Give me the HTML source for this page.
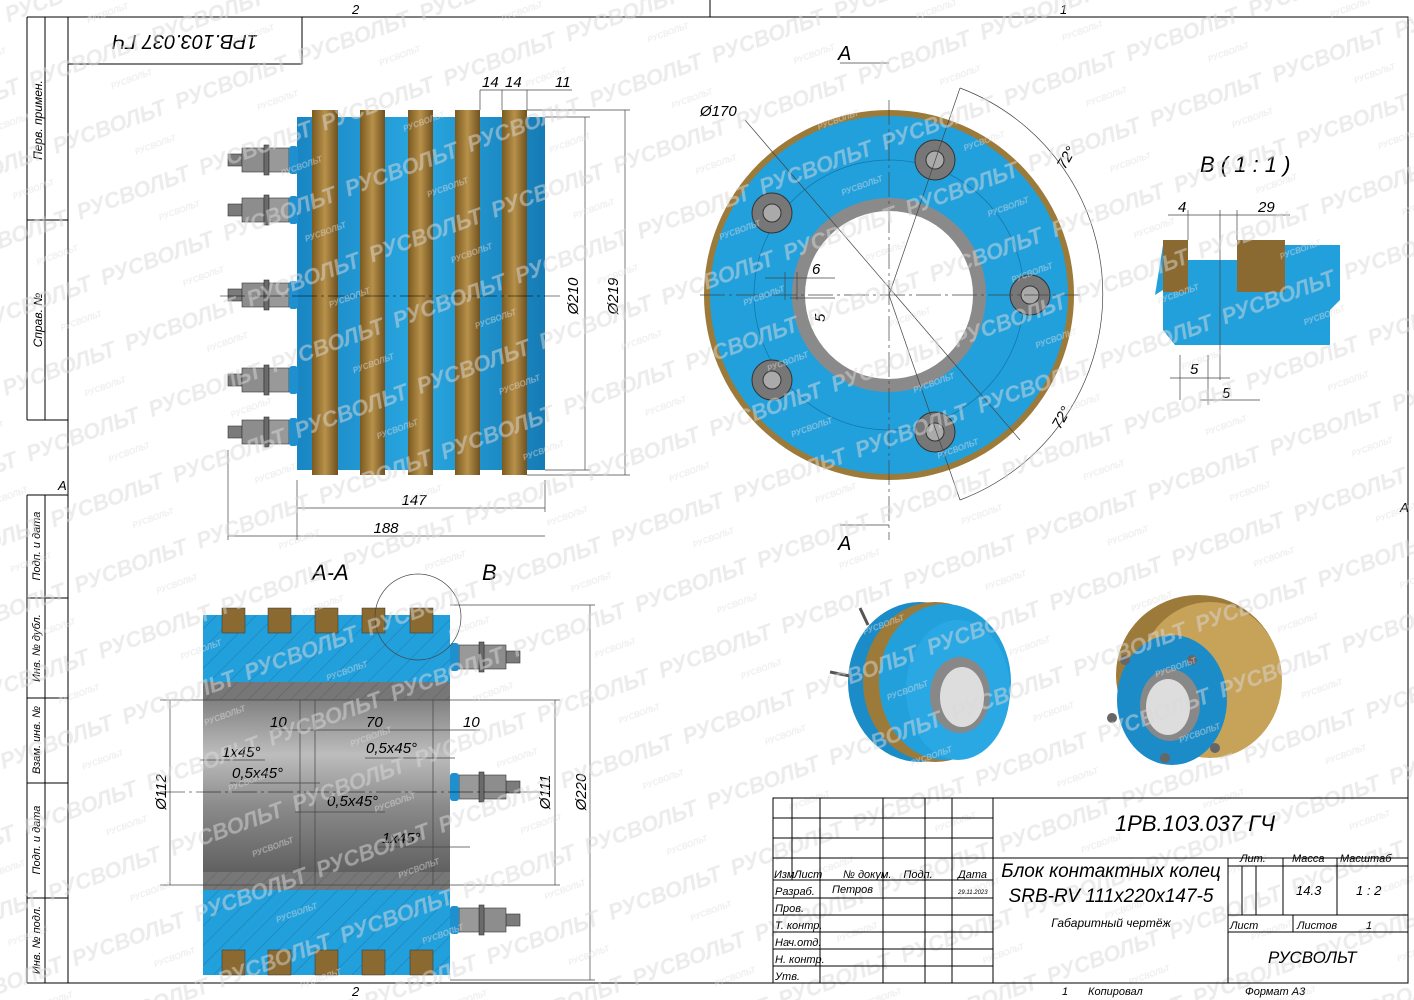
<!DOCTYPE html>
<html><head><meta charset="utf-8"><style>
html,body{margin:0;padding:0;background:#fff}
svg{display:block}
text{font-family:"Liberation Sans","Noto Sans CJK SC",sans-serif;font-style:italic}
.wm{fill:#d9d9d9;font-weight:bold;font-style:italic;font-size:22px}
.wms{fill:#dedede;font-weight:bold;font-size:8px}
.l{stroke:#000;stroke-width:1;fill:none}
.t{stroke:#444;stroke-width:0.7;fill:none}
.dim{font-size:15px;fill:#000}
</style></head><body>
<svg width="1414" height="1000" viewBox="0 0 1414 1000" xmlns="http://www.w3.org/2000/svg">
<defs>
<pattern id="wmp" width="130" height="70" patternUnits="userSpaceOnUse" patternTransform="rotate(-20)">
<text x="0" y="24" class="wm">РУСВОЛЬТ</text>
<text x="75" y="52" class="wms">РУСВОЛЬТ</text>
</pattern>
<pattern id="hat" width="14" height="14" patternUnits="userSpaceOnUse" patternTransform="rotate(45)">
<line x1="0" y1="0" x2="0" y2="14" stroke="#1a6fa0" stroke-width="0.8"/>
</pattern>
<pattern id="hatg" width="10" height="10" patternUnits="userSpaceOnUse" patternTransform="rotate(45)">
<line x1="0" y1="0" x2="0" y2="10" stroke="#555" stroke-width="0.7"/>
</pattern>
<linearGradient id="gold" x1="0" x2="1"><stop offset="0" stop-color="#7a5a20"/><stop offset="0.5" stop-color="#b8914a"/><stop offset="1" stop-color="#6e5120"/></linearGradient>
<linearGradient id="blue" x1="0" x2="1"><stop offset="0" stop-color="#1a86c4"/><stop offset="0.5" stop-color="#29a7e0"/><stop offset="1" stop-color="#167bb5"/></linearGradient>
<linearGradient id="grey" x1="0" y1="0" x2="0" y2="1"><stop offset="0" stop-color="#6d6d6d"/><stop offset="0.35" stop-color="#bdbdbd"/><stop offset="0.6" stop-color="#8a8a8a"/><stop offset="1" stop-color="#555"/></linearGradient>
<g id="bolt">
<rect x="0" y="-6" width="14" height="12" fill="#7b7b7b" stroke="#333" stroke-width="0.6"/>
<rect x="14" y="-12" width="22" height="24" fill="#8d8d8d" stroke="#333" stroke-width="0.6"/>
<rect x="36" y="-15" width="5" height="30" fill="#6a6a6a" stroke="#333" stroke-width="0.6"/>
<rect x="41" y="-12" width="20" height="24" fill="#999" stroke="#333" stroke-width="0.6"/>
<rect x="61" y="-14" width="9" height="28" rx="3" fill="#1e90d0"/>
</g>
</defs>
<rect width="1414" height="1000" fill="#fff"/>

<!-- frame -->
<rect x="68" y="17" width="1340" height="966" class="l"/>
<rect x="68" y="17" width="234" height="47" class="l"/>
<text x="185" y="49" font-size="20" text-anchor="middle" transform="rotate(180 185 42)">1РВ.103.037 ГЧ</text>
<line x1="27" y1="17" x2="68" y2="17" class="l"/>
<line x1="27" y1="17" x2="27" y2="420" class="l"/>
<line x1="45" y1="17" x2="45" y2="420" class="l"/>
<line x1="27" y1="220" x2="68" y2="220" class="l"/>
<line x1="27" y1="420" x2="68" y2="420" class="l"/>
<text x="42" y="120" font-size="12" transform="rotate(-90 42 120)" text-anchor="middle">Перв. примен.</text>
<text x="42" y="320" font-size="12" transform="rotate(-90 42 320)" text-anchor="middle">Справ. №</text>
<line x1="27" y1="495" x2="27" y2="983" class="l"/>
<line x1="45" y1="495" x2="45" y2="983" class="l"/>
<g class="l"><line x1="27" y1="495" x2="68" y2="495"/><line x1="27" y1="598" x2="68" y2="598"/><line x1="27" y1="698" x2="68" y2="698"/><line x1="27" y1="783" x2="68" y2="783"/><line x1="27" y1="898" x2="68" y2="898"/><line x1="27" y1="983" x2="68" y2="983"/></g>
<text x="40" y="546" font-size="11" transform="rotate(-90 40 546)" text-anchor="middle">Подп. и дата</text>
<text x="40" y="648" font-size="11" transform="rotate(-90 40 648)" text-anchor="middle">Инв. № дубл.</text>
<text x="40" y="740" font-size="11" transform="rotate(-90 40 740)" text-anchor="middle">Взам. инв. №</text>
<text x="40" y="840" font-size="11" transform="rotate(-90 40 840)" text-anchor="middle">Подп. и дата</text>
<text x="40" y="940" font-size="11" transform="rotate(-90 40 940)" text-anchor="middle">Инв. № подл.</text>
<text x="58" y="490" font-size="13">A</text>
<text x="1400" y="512" font-size="13">A</text>
<text x="352" y="14" font-size="13">2</text><text x="1060" y="14" font-size="13">1</text>
<text x="352" y="996" font-size="13">2</text>
<line x1="710" y1="0" x2="710" y2="17" class="l"/>

<!-- front view -->
<g>
<rect x="297" y="117" width="248" height="353" fill="url(#blue)"/>
<rect x="312" y="110" width="26" height="365" fill="url(#gold)"/>
<rect x="360" y="110" width="25" height="365" fill="url(#gold)"/>
<rect x="408" y="110" width="25" height="365" fill="url(#gold)"/>
<rect x="455" y="110" width="25" height="365" fill="url(#gold)"/>
<rect x="502" y="110" width="25" height="365" fill="url(#gold)"/>
<use href="#bolt" transform="translate(228,160)"/>
<use href="#bolt" transform="translate(228,210)"/>
<use href="#bolt" transform="translate(228,295)"/>
<use href="#bolt" transform="translate(228,380)"/>
<use href="#bolt" transform="translate(228,432)"/>
<line x1="220" y1="296" x2="560" y2="296" stroke="#000" stroke-width="0.6" stroke-dasharray="25,4,3,4"/>
<g class="t">
<line x1="297" y1="480" x2="297" y2="540"/><line x1="545" y1="480" x2="545" y2="512"/>
<line x1="297" y1="508" x2="545" y2="508"/><line x1="228" y1="536" x2="545" y2="536"/><line x1="228" y1="450" x2="228" y2="540"/>
<line x1="545" y1="117" x2="590" y2="117"/><line x1="545" y1="470" x2="590" y2="470"/><line x1="585" y1="117" x2="585" y2="470"/>
<line x1="527" y1="110" x2="630" y2="110"/><line x1="527" y1="475" x2="630" y2="475"/><line x1="625" y1="110" x2="625" y2="475"/>
<line x1="480" y1="90" x2="572" y2="90"/><line x1="480" y1="90" x2="480" y2="110"/><line x1="502" y1="90" x2="502" y2="110"/><line x1="527" y1="90" x2="527" y2="110"/>
</g>
<text x="414" y="505" class="dim" text-anchor="middle">147</text>
<text x="386" y="533" class="dim" text-anchor="middle">188</text>
<text x="578" y="296" class="dim" transform="rotate(-90 578 296)" text-anchor="middle">Ø210</text>
<text x="618" y="296" class="dim" transform="rotate(-90 618 296)" text-anchor="middle">Ø219</text>
<text x="482" y="87" class="dim">14</text><text x="505" y="87" class="dim">14</text><text x="555" y="87" class="dim">11</text>
</g>

<!-- circular view -->
<g>
<circle cx="889" cy="295" r="185" fill="#9c7a3a"/>
<circle cx="889" cy="295" r="179" fill="#22a0dc"/>
<circle cx="889" cy="295" r="135" fill="none" stroke="#1577ad" stroke-width="0.8"/>
<circle cx="889" cy="295" r="97" fill="#8a8a8a"/>
<circle cx="889" cy="295" r="84" fill="#fff"/>
<g fill="#777" stroke="#333" stroke-width="1">
<circle cx="935" cy="160" r="20"/><circle cx="772" cy="213" r="20"/><circle cx="1030" cy="295" r="20"/><circle cx="772" cy="380" r="20"/><circle cx="935" cy="432" r="20"/>
</g>
<g fill="#aaa" stroke="#333" stroke-width="1">
<circle cx="935" cy="160" r="9"/><circle cx="772" cy="213" r="9"/><circle cx="1030" cy="295" r="9"/><circle cx="772" cy="380" r="9"/><circle cx="935" cy="432" r="9"/>
</g>
<g class="t">
<line x1="700" y1="295" x2="1080" y2="295" stroke-dasharray="25,4,3,4"/>
<line x1="889" y1="100" x2="889" y2="540" stroke-dasharray="25,4,3,4"/>
<line x1="745" y1="120" x2="1020" y2="440"/>
<line x1="889" y1="295" x2="960" y2="88"/><line x1="889" y1="295" x2="960" y2="500"/>
<path d="M960 88 A220 220 0 0 1 960 500"/>
<line x1="840" y1="63" x2="889" y2="63"/><line x1="840" y1="525" x2="889" y2="525"/>
<line x1="785" y1="272" x2="785" y2="300"/><line x1="797" y1="272" x2="797" y2="300"/><line x1="765" y1="278" x2="835" y2="278"/>
<line x1="790" y1="298" x2="835" y2="298"/>
</g>
<text x="838" y="60" font-size="20">A</text><text x="838" y="550" font-size="20">A</text>
<text x="700" y="116" class="dim">Ø170</text>
<text x="1065" y="170" class="dim" transform="rotate(-60 1065 170)">72°</text>
<text x="1060" y="430" class="dim" transform="rotate(-60 1060 430)">72°</text>
<text x="812" y="274" class="dim">6</text>
<text x="825" y="322" class="dim" transform="rotate(-90 825 322)">5</text>
</g>

<!-- detail B -->
<g>
<text x="1200" y="172" font-size="22">В ( 1 : 1 )</text>
<path d="M1163 245 L1340 245 L1340 300 L1330 310 L1330 345 L1175 345 L1163 330 L1163 290 L1155 295 Z" fill="#22a0dc"/>
<rect x="1163" y="240" width="25" height="52" fill="#8a6a30"/>
<rect x="1237" y="240" width="48" height="52" fill="#8a6a30"/>
<rect x="1188" y="240" width="49" height="20" fill="#fff"/>
<g class="t">
<line x1="1168" y1="215" x2="1290" y2="215"/><line x1="1188" y1="210" x2="1188" y2="240"/><line x1="1220" y1="210" x2="1220" y2="380"/><line x1="1237" y1="210" x2="1237" y2="240"/>
<line x1="1180" y1="355" x2="1180" y2="400"/><line x1="1170" y1="378" x2="1230" y2="378"/><line x1="1200" y1="400" x2="1260" y2="400"/><line x1="1208" y1="355" x2="1208" y2="405"/>
</g>
<text x="1178" y="212" class="dim">4</text><text x="1258" y="212" class="dim">29</text>
<text x="1190" y="374" class="dim">5</text><text x="1222" y="398" class="dim">5</text>
</g>

<!-- section A-A -->
<g>
<text x="312" y="580" font-size="22">А-А</text><text x="482" y="580" font-size="22">В</text>
<rect x="203" y="615" width="247" height="67" fill="#22a0dc"/><rect x="203" y="615" width="247" height="67" fill="url(#hat)"/>
<rect x="203" y="890" width="247" height="85" fill="#22a0dc"/><rect x="203" y="890" width="247" height="85" fill="url(#hat)"/>
<rect x="203" y="682" width="247" height="208" fill="url(#grey)"/>
<rect x="203" y="682" width="247" height="18" fill="#777"/><rect x="203" y="682" width="247" height="18" fill="url(#hatg)"/>
<rect x="203" y="872" width="247" height="18" fill="#777"/><rect x="203" y="872" width="247" height="18" fill="url(#hatg)"/>
<g fill="#8a6a30" stroke="#333" stroke-width="0.5">
<rect x="222" y="608" width="23" height="25"/><rect x="268" y="608" width="23" height="25"/><rect x="315" y="608" width="23" height="25"/><rect x="362" y="608" width="23" height="25"/><rect x="410" y="608" width="23" height="25"/>
<rect x="222" y="950" width="23" height="25"/><rect x="268" y="950" width="23" height="25"/><rect x="315" y="950" width="23" height="25"/><rect x="362" y="950" width="23" height="25"/><rect x="410" y="950" width="23" height="25"/>
</g>
<use href="#bolt" transform="translate(520,657) scale(-1,1)"/>
<use href="#bolt" transform="translate(520,787) scale(-1,1)"/>
<use href="#bolt" transform="translate(520,920) scale(-1,1)"/>
<circle cx="418" cy="617" r="43" class="t"/>
<g class="t">
<line x1="300" y1="700" x2="300" y2="885"/><line x1="315" y1="700" x2="315" y2="885"/><line x1="433" y1="700" x2="433" y2="885"/>
<line x1="160" y1="700" x2="560" y2="700"/><line x1="160" y1="885" x2="560" y2="885"/>
<line x1="170" y1="700" x2="170" y2="885"/><line x1="555" y1="700" x2="555" y2="885"/>
<line x1="450" y1="605" x2="595" y2="605"/><line x1="450" y1="980" x2="595" y2="980"/><line x1="590" y1="605" x2="590" y2="980"/>
<line x1="270" y1="730" x2="480" y2="730"/>
<line x1="200" y1="760" x2="265" y2="760"/><line x1="230" y1="783" x2="320" y2="783"/>
<line x1="365" y1="758" x2="455" y2="758"/><line x1="295" y1="812" x2="385" y2="812"/>
<line x1="378" y1="847" x2="470" y2="847"/>
</g>
<line x1="160" y1="792" x2="540" y2="792" stroke="#000" stroke-width="0.6" stroke-dasharray="25,4,3,4"/>
<text x="270" y="727" class="dim">10</text><text x="366" y="727" class="dim">70</text><text x="463" y="727" class="dim">10</text>
<text x="222" y="757" class="dim">1x45°</text><text x="232" y="778" class="dim">0,5x45°</text>
<text x="366" y="753" class="dim">0,5x45°</text><text x="327" y="806" class="dim">0,5x45°</text>
<text x="382" y="843" class="dim">1x45°</text>
<text x="166" y="792" class="dim" transform="rotate(-90 166 792)" text-anchor="middle">Ø112</text>
<text x="550" y="792" class="dim" transform="rotate(-90 550 792)" text-anchor="middle">Ø111</text>
<text x="586" y="792" class="dim" transform="rotate(-90 586 792)" text-anchor="middle">Ø220</text>
</g>

<!-- 3D views -->
<g>
<ellipse cx="920" cy="682" rx="72" ry="80" fill="#1b8cc8"/>
<ellipse cx="935" cy="682" rx="72" ry="80" fill="#9c7a3a"/>
<ellipse cx="945" cy="682" rx="66" ry="78" fill="#22a0dc"/>
<ellipse cx="958" cy="690" rx="52" ry="70" fill="#2aa8e3"/>
<ellipse cx="960" cy="695" rx="30" ry="38" fill="#888"/>
<ellipse cx="962" cy="697" rx="22" ry="30" fill="#ddd"/>
<line x1="830" y1="672" x2="850" y2="676" stroke="#555" stroke-width="3"/>
<line x1="860" y1="608" x2="868" y2="625" stroke="#555" stroke-width="3"/>
<ellipse cx="1198" cy="675" rx="82" ry="80" fill="#9c7a3a"/>
<ellipse cx="1210" cy="680" rx="72" ry="78" fill="#c7a35a"/>
<ellipse cx="1172" cy="700" rx="55" ry="65" fill="#1b8cc8"/>
<ellipse cx="1170" cy="705" rx="30" ry="36" fill="#888"/>
<ellipse cx="1168" cy="707" rx="22" ry="28" fill="#ddd"/>
<g fill="#666"><circle cx="1125" cy="660" r="5"/><circle cx="1112" cy="718" r="5"/><circle cx="1165" cy="758" r="5"/><circle cx="1215" cy="748" r="5"/><circle cx="1192" cy="660" r="5"/></g>
</g>

<!-- watermark layer -->
<rect x="0" y="0" width="1414" height="1000" fill="url(#wmp)" opacity="0.5"/>

<!-- title block -->
<g>
<rect x="773" y="798" width="635" height="185" fill="#fff" fill-opacity="0.6" class="l"/>
<g class="l">
<line x1="993" y1="798" x2="993" y2="983"/>
<line x1="773" y1="818" x2="993" y2="818"/><line x1="773" y1="838" x2="993" y2="838"/><line x1="773" y1="858" x2="1408" y2="858"/>
<line x1="773" y1="880" x2="993" y2="880"/><line x1="773" y1="898" x2="993" y2="898"/><line x1="773" y1="915" x2="993" y2="915"/><line x1="773" y1="932" x2="993" y2="932"/><line x1="773" y1="949" x2="993" y2="949"/><line x1="773" y1="966" x2="993" y2="966"/>
<line x1="792" y1="798" x2="792" y2="880"/><line x1="820" y1="798" x2="820" y2="983"/><line x1="883" y1="798" x2="883" y2="983"/><line x1="925" y1="798" x2="925" y2="983"/><line x1="952" y1="798" x2="952" y2="983"/>
<line x1="1228" y1="858" x2="1228" y2="983"/>
<line x1="1228" y1="866" x2="1408" y2="866"/><line x1="1228" y1="915" x2="1408" y2="915"/><line x1="1228" y1="932" x2="1408" y2="932"/>
<line x1="1283" y1="858" x2="1283" y2="915"/><line x1="1337" y1="858" x2="1337" y2="915"/>
<line x1="1242" y1="866" x2="1242" y2="915"/><line x1="1256" y1="866" x2="1256" y2="915"/>
<line x1="1293" y1="915" x2="1293" y2="932"/>
</g>
<text x="1195" y="831" font-size="22" text-anchor="middle">1РВ.103.037 ГЧ</text>
<text x="1111" y="877" font-size="19" text-anchor="middle">Блок контактных колец</text>
<text x="1111" y="902" font-size="19" text-anchor="middle">SRB-RV 111x220x147-5</text>
<text x="1111" y="927" font-size="12" text-anchor="middle">Габаритный чертёж</text>
<g font-size="11">
<text x="774" y="878">Изм</text><text x="794" y="878">Лист</text><text x="843" y="878">№ докум.</text><text x="918" y="878" text-anchor="middle" dx="0">Подп.</text><text x="958" y="878">Дата</text>
<text x="775" y="895">Разраб.</text><text x="832" y="893">Петров</text><text x="958" y="894" font-size="6">29.11.2023</text>
<text x="775" y="912">Пров.</text><text x="775" y="929">Т. контр.</text><text x="775" y="946">Нач.отд.</text><text x="775" y="963">Н. контр.</text><text x="775" y="980">Утв.</text>
<text x="1240" y="862">Лит.</text><text x="1292" y="862">Масса</text><text x="1340" y="862">Масштаб</text>
<text x="1296" y="895" font-size="13">14.3</text><text x="1356" y="895" font-size="13">1 : 2</text>
<text x="1230" y="929">Лист</text><text x="1297" y="929">Листов</text><text x="1366" y="929">1</text>
<text x="1062" y="995">1</text><text x="1088" y="995">Копировал</text><text x="1245" y="995">Формат А3</text>
</g>
<text x="1268" y="963" font-size="17">РУСВОЛЬТ</text>
</g>
</svg>
</body></html>
